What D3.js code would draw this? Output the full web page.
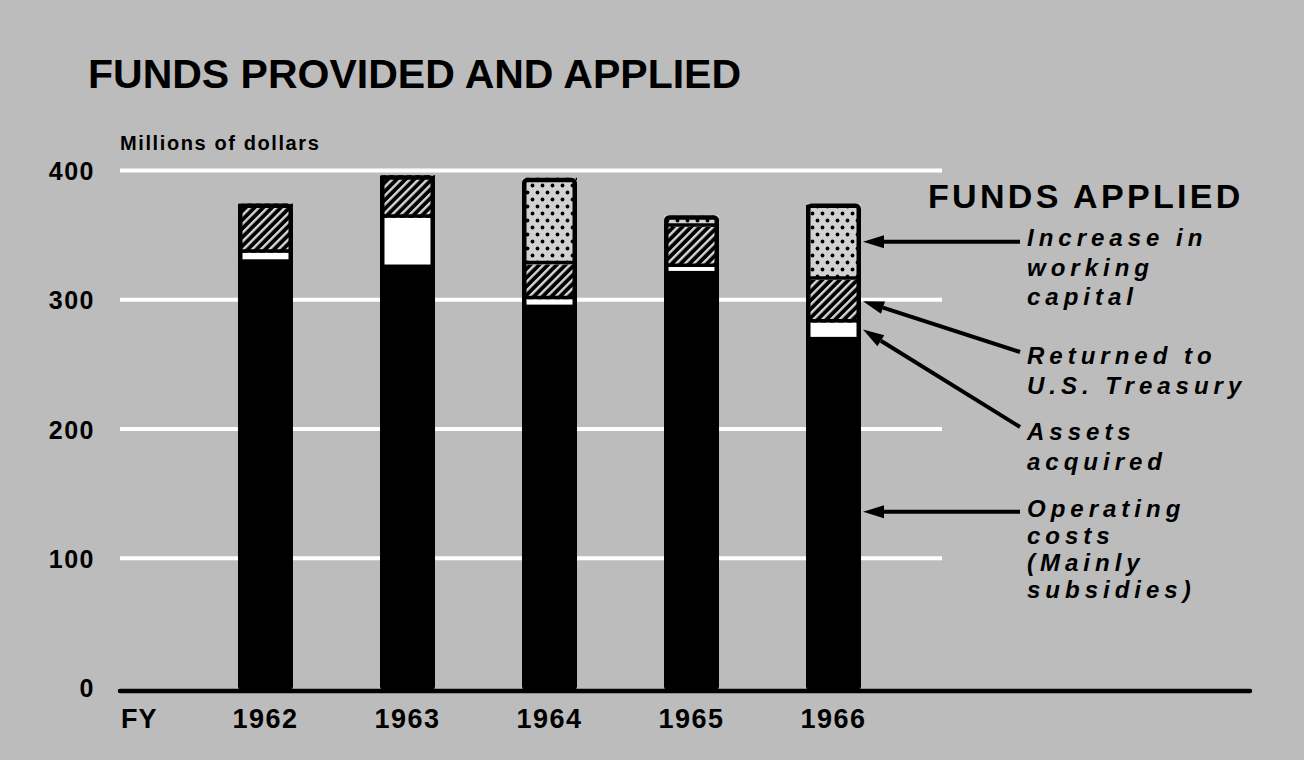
<!DOCTYPE html>
<html>
<head>
<meta charset="utf-8">
<script src="https://cdn.jsdelivr.net/npm/d3@7"></script>
<style>
  html, body { margin: 0; padding: 0; background: #bcbcbc; }
  svg { display: block; }
  text { font-family: "Liberation Sans", Arial, sans-serif; font-weight: bold; fill: #000; }
</style>
</head>
<body>
<svg id="chart" width="1304" height="760"></svg>
<script>
// ---------------- data ----------------
const years = ["1962", "1963", "1964", "1965", "1966"];
const operatingCosts     = [331, 327, 296, 322, 271];
const assetsAcquired     = [5, 36, 4, 3, 11];
const returnedToTreasury = [38, 33, 27, 31, 33];
const workingCapital     = [0, 0, 67, 9, 59];
const yTickValues = [0, 100, 200, 300, 400];
const seriesKeys = ["op", "assets", "treasury", "wc"];
const legendKeys = ["wc", "treasury", "assets", "op"];
const legendLines = [
  ["Increase in", "working", "capital"],
  ["Returned to", "U.S. Treasury"],
  ["Assets", "acquired"],
  ["Operating", "costs", "(Mainly", "subsidies)"]
];
const titleText = "FUNDS PROVIDED AND APPLIED";
const unitText = "Millions of dollars";
const legendTitle = "FUNDS APPLIED";
const xPrefix = "FY";

// ---------------- layout ----------------
const W = 1304, H = 760;
const gridLeft = 120, gridRight = 942, axisRight = 1250;
const legendX = 1027, arrowStartX = 1020;
const legendBaselines = [246, 364, 440, 517];
const legendGaps = [29.5, 30, 30, 27];
const arrowStartYs = [null, 352, 427, null]; // null => horizontal arrow

const rows = years.map((yr, i) => ({
  year: yr,
  op: operatingCosts[i],
  assets: assetsAcquired[i],
  treasury: returnedToTreasury[i],
  wc: workingCapital[i]
}));

const svg = d3.select("#chart");
svg.append("rect").attr("width", W).attr("height", H).attr("fill", "#bcbcbc");

// patterns
const defs = svg.append("defs");
const hatch = defs.append("pattern")
  .attr("id", "hatch").attr("patternUnits", "userSpaceOnUse")
  .attr("width", 6.2).attr("height", 6.2)
  .attr("patternTransform", "rotate(45)");
hatch.append("rect").attr("width", 6.2).attr("height", 6.2).attr("fill", "#000");
hatch.append("rect").attr("x", 0).attr("width", 2.4).attr("height", 6.2).attr("fill", "#d6d6d6");

const dots = defs.append("pattern")
  .attr("id", "dots").attr("patternUnits", "userSpaceOnUse")
  .attr("width", 10).attr("height", 14);
dots.append("rect").attr("width", 10).attr("height", 14).attr("fill", "#d2d2d2");
dots.append("circle").attr("cx", 2.5).attr("cy", 3.5).attr("r", 1.9).attr("fill", "#000");
dots.append("circle").attr("cx", 7.5).attr("cy", 10.5).attr("r", 1.9).attr("fill", "#000");

const fills = { op: "#000", assets: "#fff", treasury: "url(#hatch)", wc: "url(#dots)" };

// scales
const y = d3.scaleLinear().domain([0, 400]).range([687, 170]);
const x = d3.scaleBand().domain(years).range([194.5, 904.5])
  .paddingInner(0.6127).paddingOuter(0.3063);
const bw = x.bandwidth();

// gridlines + y labels
const yAxis = d3.axisLeft(y).tickValues(yTickValues).tickSize(-(gridRight - gridLeft)).tickPadding(25);
const gy = svg.append("g").attr("transform", `translate(${gridLeft},0)`).call(yAxis);
gy.select(".domain").remove();
gy.selectAll(".tick line").attr("stroke", "#fff").attr("stroke-width", 4)
  .attr("opacity", d => d === 0 ? 0 : 1);
gy.selectAll(".tick text").attr("fill", "#000").attr("font-size", 25)
  .attr("font-family", "Liberation Sans, Arial, sans-serif").attr("font-weight", "bold")
  .attr("letter-spacing", 1.5).attr("dy", "0.38em");

// title & unit
svg.append("text").attr("x", 88).attr("y", 88).attr("font-size", 41).text(titleText);
svg.append("text").attr("x", 120).attr("y", 150).attr("font-size", 20).attr("letter-spacing", 1.6).text(unitText);

// stacked bars
const stacked = d3.stack().keys(seriesKeys)(rows);
const barG = svg.append("g");
stacked.forEach(layer => {
  barG.selectAll(null).data(layer.filter(d => d[1] - d[0] > 0)).enter().append("rect")
    .attr("x", d => x(d.data.year)).attr("width", bw)
    .attr("y", d => y(d[1])).attr("height", d => y(d[0]) - y(d[1]))
    .attr("fill", fills[layer.key]);
});
// separators under hatched / dotted segments
stacked.filter(l => l.key === "treasury" || l.key === "wc").forEach(layer => {
  barG.selectAll(null).data(layer.filter(d => d[1] - d[0] > 0)).enter().append("line")
    .attr("x1", d => x(d.data.year)).attr("x2", d => x(d.data.year) + bw)
    .attr("y1", d => y(d[0]) - 1.75).attr("y2", d => y(d[0]) - 1.75)
    .attr("stroke", "#000").attr("stroke-width", 3.5);
});
// outlines
const topLayer = stacked[stacked.length - 1];
barG.selectAll(null).data(topLayer).enter().append("rect")
  .attr("x", d => x(d.data.year) + 2.25).attr("width", bw - 4.5)
  .attr("y", d => y(d[1]) + 2.25).attr("height", d => y(0) - y(d[1]))
  .attr("rx", 3).attr("fill", "none").attr("stroke", "#000").attr("stroke-width", 4.5);

// baseline axis
svg.append("line").attr("x1", gridLeft).attr("x2", axisRight)
  .attr("y1", y(0) + 4).attr("y2", y(0) + 4)
  .attr("stroke", "#000").attr("stroke-width", 4.5).attr("stroke-linecap", "round");

// x labels
const xAxis = d3.axisBottom(x).tickSize(0).tickPadding(22);
const gx = svg.append("g").attr("transform", `translate(0,${y(0)})`).call(xAxis);
gx.select(".domain").remove();
gx.selectAll(".tick text").attr("fill", "#000").attr("font-size", 27)
  .attr("font-family", "Liberation Sans, Arial, sans-serif").attr("font-weight", "bold")
  .attr("letter-spacing", 1.5);
svg.append("text").attr("x", 121).attr("y", y(0) + 22).attr("dy", "0.71em")
  .attr("font-size", 27).attr("letter-spacing", 1).text(xPrefix);

// legend
svg.append("text").attr("x", 928).attr("y", 208).attr("font-size", 34)
  .attr("letter-spacing", 3.3).text(legendTitle);

const last = years[years.length - 1];
legendKeys.forEach((key, i) => {
  const layer = stacked.find(l => l.key === key);
  const d = layer.find(p => p.data.year === last);
  const ex = x(last) + bw + 2;
  const ey = y((d[0] + d[1]) / 2);
  const sx = arrowStartX;
  const sy = arrowStartYs[i] === null ? ey : arrowStartYs[i];
  const ang = Math.atan2(sy - ey, sx - ex);
  const hl = 21, hw = 6.5;
  const bx = ex + Math.cos(ang) * hl, by = ey + Math.sin(ang) * hl;
  svg.append("line").attr("x1", sx).attr("y1", sy).attr("x2", bx).attr("y2", by)
    .attr("stroke", "#000").attr("stroke-width", 4);
  const px = -Math.sin(ang) * hw, py = Math.cos(ang) * hw;
  svg.append("path")
    .attr("d", `M${ex},${ey}L${bx + px},${by + py}L${bx - px},${by - py}Z`)
    .attr("fill", "#000");
  const t = svg.append("text").attr("font-size", 24).attr("font-style", "italic")
    .attr("letter-spacing", 5);
  legendLines[i].forEach((ln, j) => {
    t.append("tspan").attr("x", legendX).attr("y", legendBaselines[i] + j * legendGaps[i]).text(ln);
  });
});
</script>
</body>
</html>
